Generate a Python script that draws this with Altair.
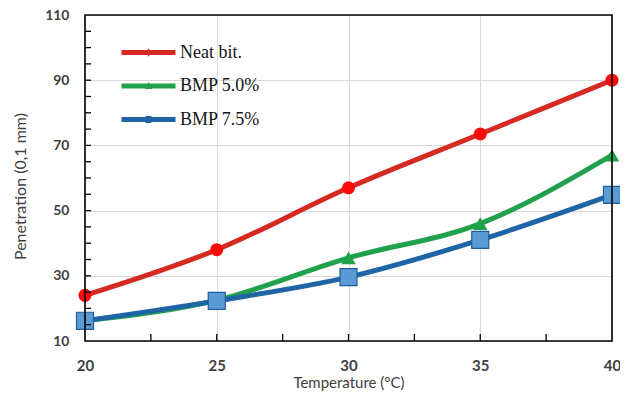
import altair as alt
import pandas as pd

temps = [20, 25, 30, 35, 40]
series_names = ["Neat bit.", "BMP 5.0%", "BMP 7.5%"]
neat = [24, 38, 57, 73.5, 90]
bmp50 = [16.2, 22.5, 35.5, 46, 67]
bmp75 = [16.2, 22.3, 29.6, 41, 54.8]

y_minor = [15, 20, 25, 30, 35, 40, 45, 50, 55, 60, 65, 70, 75, 80, 85, 90, 95, 100, 105]
x_minor = [22.5, 25, 27.5, 30, 32.5, 35, 37.5]
y_ticks = [10, 30, 50, 70, 90, 110]
x_ticks = [20, 25, 30, 35, 40]

line_colors = ["#d42a22", "#22a14c", "#1f65a6"]
point_fills = ["#ff0a0a", "#1fa34a", "#5b9bd5"]
point_strokes = ["#ff0a0a", "#1fa34a", "#1e5f99"]
point_shapes = ["circle", "triangle-up", "square"]
point_sizes = [170, 210, 290]

legend_paths = [
    "M-2,-0.18H2V0.18H-2Z M-0.2,0A0.2,0.2 0 1,1 0.2,0A0.2,0.2 0 1,1 -0.2,0Z M-0.06,-0.28H0.06V0.28H-0.06Z",
    "M-2,-0.18H2V0.18H-2Z M0,-0.3L0.26,0.22L-0.26,0.22Z",
    "M-2,-0.18H2V0.18H-2Z M-0.22,-0.26H0.22V0.26H-0.22Z",
]

rows = []
for name, vals in zip(series_names, [neat, bmp50, bmp75]):
    for t, v in zip(temps, vals):
        rows.append({"T": t, "P": v, "series": name})
df = pd.DataFrame(rows)

W, H = 527, 326
xs = alt.Scale(domain=[20, 40], nice=False, zero=False)
ys = alt.Scale(domain=[10, 110], nice=False, zero=False)

xenc = alt.X("T:Q", scale=xs, axis=alt.Axis(
    values=x_ticks, title="Temperature (°C)", grid=True, domain=False, ticks=False,
    labelFlush=False, labelPadding=17, titlePadding=2, labelFontSize=15, titleFontSize=15,
    labelColor="#404040", titleColor="#404040", labelFont="Lato", titleFont="Lato",
    labelFontWeight="bold", titleFontWeight="normal", gridColor="#d9d9d9"))
yenc = alt.Y("P:Q", scale=ys, axis=alt.Axis(
    values=y_ticks, title="Penetration (0,1 mm)", grid=True, domain=False, ticks=False,
    labelFlush=False, labelPadding=16, titlePadding=16, labelFontSize=14, titleFontSize=16,
    titleY=171,
    labelColor="#404040", titleColor="#404040", labelFont="Lato", titleFont="Lato",
    labelFontWeight="bold", titleFontWeight="normal", gridColor="#d9d9d9"))

base = alt.Chart(df)

line_layers = []
point_layers = []
for i, name in enumerate(series_names):
    sub = base.transform_filter(alt.datum.series == name)
    line_layers.append(
        sub.mark_line(strokeWidth=5, interpolate="monotone", color=line_colors[i]).encode(
            x=xenc if i == 0 else alt.X("T:Q", scale=xs),
            y=yenc if i == 0 else alt.Y("P:Q", scale=ys))
    )
    point_layers.append(
        sub.mark_point(
            shape=point_shapes[i], filled=True, fill=point_fills[i], stroke=point_strokes[i],
            strokeWidth=1.2 if i == 2 else 0, size=point_sizes[i], opacity=1
        ).encode(x=alt.X("T:Q", scale=xs), y=alt.Y("P:Q", scale=ys))
    )

leg = alt.Legend(orient="none", legendX=50, legendY=24, title=None,
                 symbolSize=729, symbolOpacity=1, symbolStrokeWidth=0,
                 labelFont="Liberation Serif", labelFontSize=18,
                 labelColor="#151515", labelOffset=18, rowPadding=10.5)

legend_layer = base.mark_point(filled=True, opacity=0).encode(
    x=alt.X("T:Q", scale=xs), y=alt.Y("P:Q", scale=ys),
    color=alt.Color("series:N", scale=alt.Scale(domain=series_names, range=line_colors), legend=leg),
    shape=alt.Shape("series:N", scale=alt.Scale(domain=series_names, range=legend_paths), legend=leg),
)

ytick_df = pd.DataFrame({"v": y_minor})
xtick_df = pd.DataFrame({"v": x_minor})
yt = alt.Chart(ytick_df).mark_rule(color="black", strokeWidth=1.3).encode(
    y=alt.Y("v:Q", scale=ys), x=alt.value(0), x2=alt.value(6))
xt = alt.Chart(xtick_df).mark_rule(color="black", strokeWidth=1.3).encode(
    x=alt.X("v:Q", scale=xs), y=alt.value(H), y2=alt.value(H - 7))

frame = alt.Chart(pd.DataFrame({"k": [0]})).mark_rect(
    filled=False, stroke="black", strokeWidth=1.6
).encode(x=alt.value(0), x2=alt.value(W), y=alt.value(0), y2=alt.value(H))

chart = alt.layer(*line_layers, *point_layers, legend_layer, yt, xt, frame).properties(
    width=W, height=H,
    autosize=alt.AutoSizeParams(type="none"),
    padding={"left": 77, "top": 7, "right": 8, "bottom": 50},
    background="white",
).configure_view(stroke=None)

chart.save("out.html", embed_options={"renderer": "svg", "actions": False})
